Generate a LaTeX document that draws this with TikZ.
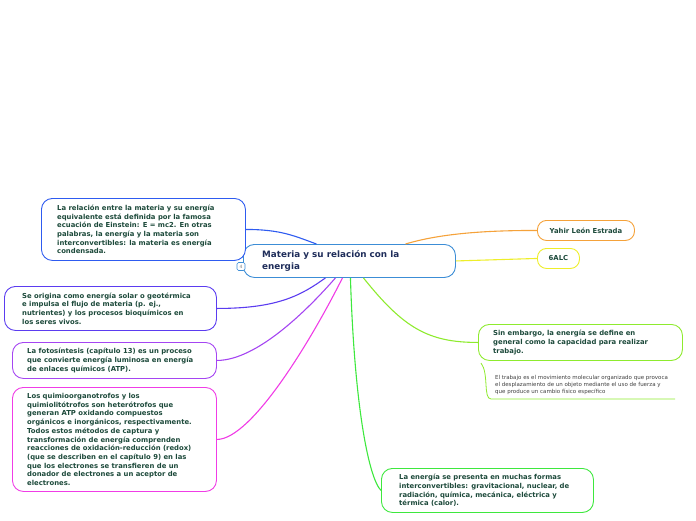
\documentclass[tikz,border=0pt]{standalone}
\usepackage{fontspec}
\setmainfont{DejaVu Sans}
\usetikzlibrary{positioning,calc}
\definecolor{navy}{HTML}{1F2D5A}
\definecolor{leaf}{HTML}{1D4A3B}
\definecolor{ctrblue}{HTML}{3C8DD6}
\definecolor{cblue}{HTML}{2E5BF0}
\definecolor{cindigo}{HTML}{5B3CF0}
\definecolor{cpurple}{HTML}{A545F2}
\definecolor{cmagenta}{HTML}{F03CE6}
\definecolor{corange}{HTML}{F5A23A}
\definecolor{cyellow}{HTML}{EEEE2A}
\definecolor{clime}{HTML}{8EEB2E}
\definecolor{cgreen}{HTML}{3EE83E}

\begin{document}
\begin{tikzpicture}[x=1pt, y=-1pt,
    idea/.style={draw, rounded corners=11pt, line width=0.9pt, fill=white, anchor=north west, inner sep=0pt},
    note/.style={align=left, inner sep=0pt, text=leaf, font=\bfseries\fontsize{6.85}{8.7}\selectfont},
    branch/.style={line width=1.1pt}
  ]
\useasboundingbox (0,0) rectangle (696,520);

% central topic
\node[idea, draw=ctrblue, minimum width=212pt, minimum height=33pt] (ctr) at (243,244) {};
\node[note, right=19pt of ctr.west, text=navy, font=\bfseries\fontsize{8.8}{11.5}\selectfont] (ctrtxt) {Materia y su relación con la\\energia};
\node[draw=ctrblue, fill=white, rounded corners=1.5pt, line width=0.6pt, minimum size=8pt, inner sep=0pt,
      font=\fontsize{4.5}{5}\selectfont, text=gray] (fold) at (241,266.5) {4};

% left side
\node[idea, draw=cblue, minimum width=204pt, minimum height=62pt] (relacion) at (41,198) {};
\node[note, right=16pt of relacion.west] (relaciontxt) {La relación entre la materia y su energía\\equivalente está definida por la famosa\\ecuación de Einstein: E = mc2. En otras\\palabras, la energía y la materia son\\interconvertibles: la materia es energía\\condensada.};

\node[idea, draw=cindigo, minimum width=212pt, minimum height=44pt] (origen) at (4,286) {};
\node[note, right=18pt of origen.west] (origentxt) {Se origina como energía solar o geotérmica\\e impulsa el flujo de materia (p. ej.,\\nutrientes) y los procesos bioquímicos en\\los seres vivos.};

\node[idea, draw=cpurple, minimum width=204pt, minimum height=36pt] (foto) at (12,342) {};
\node[note, right=15pt of foto.west] (fototxt) {La fotosíntesis (capítulo 13) es un proceso\\que convierte energía luminosa en energía\\de enlaces químicos (ATP).};

\node[idea, draw=cmagenta, minimum width=204pt, minimum height=104pt] (quimio) at (12,387) {};
\node[note, right=15pt of quimio.west] (quimiotxt) {Los quimioorganotrofos y los\\quimiolitótrofos son heterótrofos que\\generan ATP oxidando compuestos\\orgánicos e inorgánicos, respectivamente.\\Todos estos métodos de captura y\\transformación de energía comprenden\\reacciones de oxidación-reducción (redox)\\(que se describen en el capítulo 9) en las\\que los electrones se transfieren de un\\donador de electrones a un aceptor de\\electrones.};

% right side
\node[idea, draw=corange, rounded corners=9pt, minimum width=97pt, minimum height=20pt, note] (autor) at (537,220) {Yahir León Estrada};
\node[idea, draw=cyellow, rounded corners=9pt, minimum width=42pt, minimum height=20pt, note] (grupo) at (537,248) {6ALC};

\node[idea, draw=clime, minimum width=204pt, minimum height=36pt] (trabajo) at (478,324) {};
\node[note, right=15pt of trabajo.west] (trabajotxt) {Sin embargo, la energía se define en\\general como la capacidad para realizar\\trabajo.};
\node[note, anchor=north west, font=\fontsize{5.5}{7}\selectfont, text=black!75] (detalle) at (495,375) {El trabajo es el movimiento molecular organizado que provoca\\el desplazamiento de un objeto mediante el uso de fuerza y\\que produce un cambio físico específico};
\coordinate (dtop) at (481,363);
\coordinate (dbot) at (491,399);
\coordinate (dend) at (675,399);

\node[idea, draw=cgreen, minimum width=212pt, minimum height=44pt] (formas) at (381,468) {};
\node[note, right=18pt of formas.west] (formastxt) {La energía se presenta en muchas formas\\interconvertibles: gravitacional, nuclear, de\\radiación, química, mecánica, eléctrica y\\térmica (calor).};

% branches
\draw[branch, cblue] (relacion.east) .. controls +(35,0) and +(-22,-8) .. ([xshift=-33pt]ctr.north);
\draw[branch, cindigo] (origen.east) .. controls +(60,0) and +(-25,18) .. ([xshift=-24pt]ctr.south);
\draw[branch, cpurple] (foto.east) .. controls +(40,0) and +(-28,32) .. ([xshift=-14pt]ctr.south);
\draw[branch, cmagenta] (quimio.east) .. controls +(35,0) and +(-30,60) .. ([xshift=-7pt]ctr.south);
\draw[branch, cgreen] ([xshift=1pt]ctr.south) .. controls +(4,130) and +(-12,-12) .. (formas.west);
\draw[branch, clime] ([xshift=14pt]ctr.south) .. controls +(40,50) and +(-50,0) .. (trabajo.west);
\draw[branch, corange] ([xshift=56pt]ctr.north) .. controls +(40,-12) and +(-40,0) .. (autor.west);
\draw[branch, cyellow] (ctr.east) -- (grupo.west);
\draw[clime, line width=0.8pt] (dtop) .. controls +(8,10) and +(-8,0) .. (dbot) -- (dend);
\end{tikzpicture}
\end{document}
